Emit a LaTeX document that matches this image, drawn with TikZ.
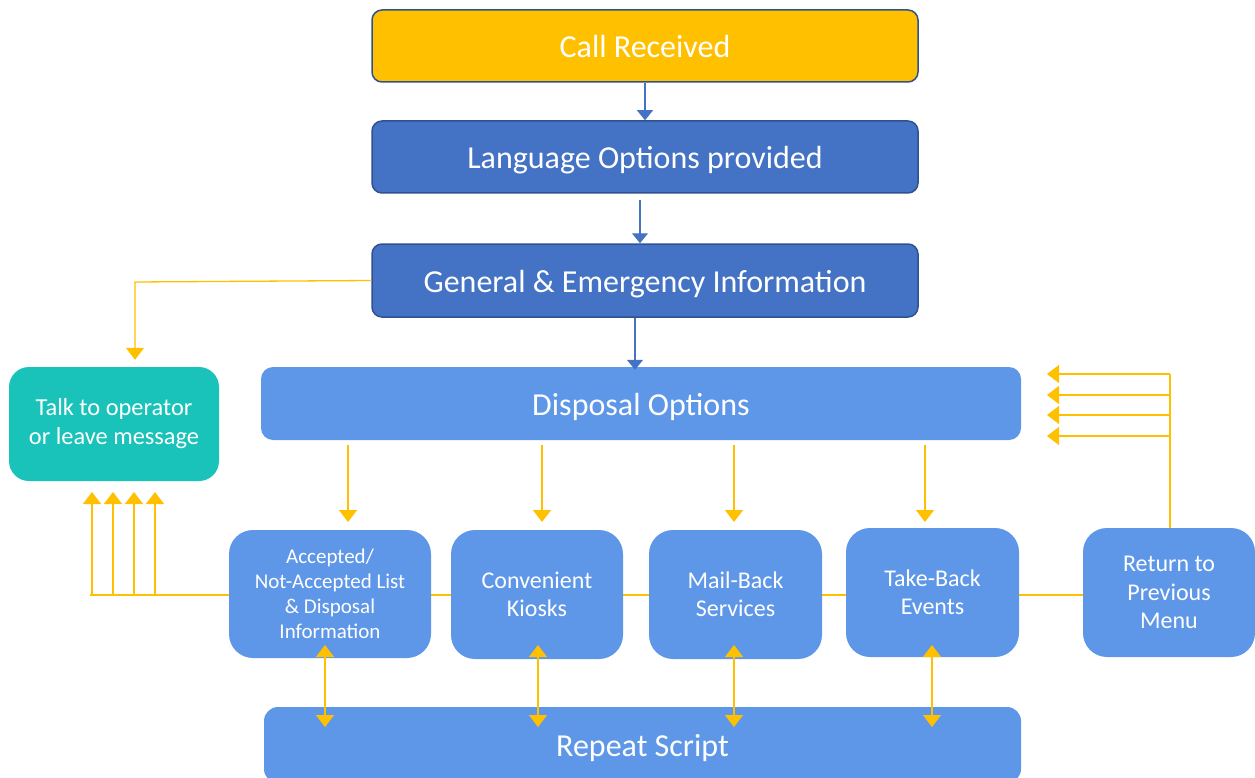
\documentclass[tikz,border=0pt]{standalone}
\usepackage{fontspec}
\setmainfont{Carlito}
\usetikzlibrary{arrows.meta,calc}
\definecolor{gold}{HTML}{FFC000}
\definecolor{dblue}{HTML}{4472C4}
\definecolor{dborder}{HTML}{2F528F}
\definecolor{mblue}{HTML}{5F97E8}
\definecolor{teal}{HTML}{19C3BA}
\tikzset{
  box/.style={rounded corners=10pt, inner sep=0pt, align=center, text=white, font=\fontsize{32}{36}\selectfont},
  oneline/.style={text height=29pt, text depth=6pt},
  topbox/.style={box, oneline, draw=dborder, line width=1.5pt},
  optbox/.style={box, fill=mblue, rounded corners=24pt, font=\fontsize{24}{28.5}\selectfont},
  ya/.style={draw=gold, line width=1.3pt, -{Triangle[width=18pt,length=12pt]}},
  yda/.style={draw=gold, line width=1.3pt, {Triangle[width=18pt,length=12pt]}-{Triangle[width=18pt,length=12pt]}},
  yl/.style={draw=gold, line width=1.3pt},
  ba/.style={draw=dblue, line width=1.2pt, -{Triangle[width=16pt,length=10pt]}},
}
\begin{document}
\begin{tikzpicture}[x=1pt,y=-1pt]
\useasboundingbox (0,0) rectangle (1255,778);
\clip (0,0) rectangle (1255,778);
% connectors behind boxes
\coordinate (lb) at (90,595);
\coordinate (rb) at (1083,595);
\draw[yl, line width=2pt] (lb) -- (rb);
% boxes
\node[topbox, fill=gold, minimum width=546pt, minimum height=72pt] (call) at (645,46) {Call Received};
\node[topbox, fill=dblue, minimum width=546pt, minimum height=72pt] (lang) at (645,157) {Language Options provided};
\node[topbox, fill=dblue, minimum width=546pt, minimum height=73pt] (gen) at (645,280.5) {General \& Emergency Information};
\node[box, oneline, fill=mblue, rounded corners=12pt, minimum width=760pt, minimum height=73pt] (disp) at (641,403.5) {Disposal Options};
\node[box, fill=teal, rounded corners=20pt, minimum width=210pt, minimum height=114pt, font=\fontsize{24.4}{29}\selectfont] (talk) at (114,424) {Talk to operator\\or leave message};
\node[optbox, minimum width=202pt, minimum height=128pt, font=\fontsize{21}{25}\selectfont] (acc) at (330,594) {Accepted/\\Not-Accepted List\\\& Disposal\\Information};
\node[optbox, minimum width=172pt, minimum height=129pt] (kio) at (537,594.5) {Convenient\\Kiosks};
\node[optbox, minimum width=173pt, minimum height=129pt] (mail) at (735.5,594.5) {Mail-Back\\Services};
\node[optbox, minimum width=173pt, minimum height=129pt] (take) at (932.5,592.5) {Take-Back\\Events};
\node[optbox, minimum width=172pt, minimum height=129pt] (ret) at (1169,592.5) {Return to\\Previous\\Menu};
\node[box, oneline, fill=mblue, rounded corners=14pt, minimum width=757pt, minimum height=76pt] (rep) at (642.5,745) {Repeat Script};
% blue arrows
\draw[ba] (call.south) -- (lang.north);
\draw[ba] ($(lang.south)+(-5,6)$) -- ($(gen.north)+(-5,0)$);
\draw[ba] ($(gen.south)+(-10,0)$) -- ($(disp.north)+(-6,3)$);
% general -> talk
\coordinate (gl) at (135,282);
\draw[ya] (gen.west) -- (gl) -- ($(talk.north)+(21,-7)$);
% disposal -> options
\foreach \n/\x in {acc/348,kio/542,mail/734,take/925}{
  \draw[ya] (\x,445) -- (\x,522);
}
% left up arrows
\foreach \x in {92,113,134,155}{
  \draw[ya] (\x,595) -- (\x,492);
}
% right arrows back to disposal
\coordinate (rt) at (1170,374);
\draw[yl] (ret.north -| rt) -- (rt);
\foreach \y in {374,395,415,436}{
  \draw[ya] (1170,\y) -- (1047,\y);
}
% options <-> repeat
\foreach \x in {325,538,734,932}{
  \draw[yda] (\x,645) -- (\x,727);
}
\end{tikzpicture}
\end{document}
